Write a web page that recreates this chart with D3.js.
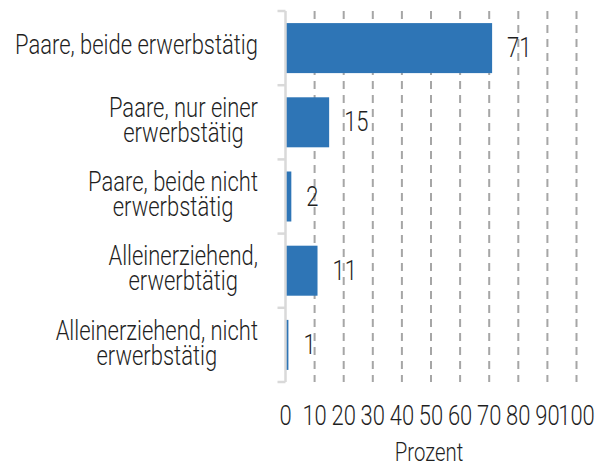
<!DOCTYPE html>
<html>
<head>
<meta charset="utf-8">
<script src="https://cdnjs.cloudflare.com/ajax/libs/d3/7.8.5/d3.min.js"></script>
<style>
  body { margin: 0; background: #fff; }
  text { font-family: Roboto, "DejaVu Sans Condensed", sans-serif; font-weight: 300; fill: #1f1f1f; }
</style>
</head>
<body>
<div id="chart"></div>
<script>
var categories = [
	["Paare, beide erwerbstätig"],
	["Paare, nur einer", "erwerbstätig"],
	["Paare, beide nicht", "erwerbstätig"],
	["Alleinerziehend,", "erwerbtätig"],
	["Alleinerziehend, nicht", "erwerbstätig"]
];
var values = [71, 15, 2, 11, 1];
var xTicks = [0, 10, 20, 30, 40, 50, 60, 70, 80, 90, 100];
var xTitle = "Prozent";

var width = 603, height = 467;
var fs = 27;

var svg = d3.select('#chart').append('svg')
	.attr('width', width)
	.attr('height', height);

// the original face is condensed; squeeze a normal one to the same width
var probe = svg.append('text').attr('font-size', fs).text(categories[0][0]);
var squeeze = 243 / probe.node().getComputedTextLength();
probe.remove();

function fit(sel) {
	sel.each(function() {
		var w = this.getComputedTextLength();
		d3.select(this)
			.attr('textLength', w * squeeze)
			.attr('lengthAdjust', 'spacingAndGlyphs');
	});
	return sel;
}

var x = d3.scaleLinear().domain([0, 100]).range([285.5, 576.5]);
var y = d3.scaleBand()
	.domain(d3.range(categories.length))
	.range([11, 382])
	.paddingInner(0.326)
	.paddingOuter(0.163);

// dashed gridlines
svg.selectAll('.grid')
	.data(xTicks.filter(function(d) { return d > 0; }))
	.enter().append('line')
	.attr('x1', function(d) { return x(d); })
	.attr('x2', function(d) { return x(d); })
	.attr('y1', 11)
	.attr('y2', 382)
	.attr('stroke', '#a6a6a6')
	.attr('stroke-width', 2)
	.attr('stroke-dasharray', '8,6');

// bars
svg.selectAll('.bar')
	.data(values)
	.enter().append('rect')
	.attr('x', x(0))
	.attr('y', function(d, i) { return y(i); })
	.attr('width', function(d) { return x(d) - x(0); })
	.attr('height', y.bandwidth())
	.attr('fill', '#2e75b6');

// category axis
svg.append('line')
	.attr('x1', x(0)).attr('x2', x(0))
	.attr('y1', 11).attr('y2', 382)
	.attr('stroke', '#d9d9d9')
	.attr('stroke-width', 2.5);

var bounds = d3.range(categories.length + 1).map(function(i) {
	return i < categories.length ? y(i) - y.step() * y.paddingInner() / 2 : 382;
});
bounds[0] = 11;
svg.selectAll('.ytick')
	.data(bounds)
	.enter().append('line')
	.attr('x1', x(0) - 8).attr('x2', x(0))
	.attr('y1', function(d) { return d; })
	.attr('y2', function(d) { return d; })
	.attr('stroke', '#d9d9d9')
	.attr('stroke-width', 2.5);

// category labels, lines centred inside a right-aligned block
var labelRight = 258;
categories.forEach(function(lines, i) {
	var cy = y(i) + y.bandwidth() / 2;
	var g = svg.append('g');
	var texts = lines.map(function(l, k) {
		var base = lines.length == 1 ? cy + 5.5 : cy - 5.3 + k * 25;
		return fit(g.append('text')
			.attr('y', base)
			.attr('font-size', fs)
			.attr('text-anchor', 'middle')
			.text(l));
	});
	var maxW = d3.max(texts, function(t) { return +t.attr('textLength'); });
	texts.forEach(function(t) { t.attr('x', labelRight - maxW / 2); });
});

// value labels
fit(svg.selectAll('.val')
	.data(values)
	.enter().append('text')
	.attr('x', function(d) { return x(d) + 15; })
	.attr('y', function(d, i) { return y(i) + y.bandwidth() / 2 + 9; })
	.attr('font-size', fs)
	.text(function(d) { return d; }));

// x tick labels
fit(svg.selectAll('.xlab')
	.data(xTicks)
	.enter().append('text')
	.attr('x', function(d) { return x(d); })
	.attr('y', 425)
	.attr('text-anchor', 'middle')
	.attr('font-size', fs)
	.text(function(d) { return d; }));

fit(svg.append('text')
	.attr('x', 429)
	.attr('y', 461)
	.attr('text-anchor', 'middle')
	.attr('font-size', 25)
	.text(xTitle));
</script>
</body>
</html>
